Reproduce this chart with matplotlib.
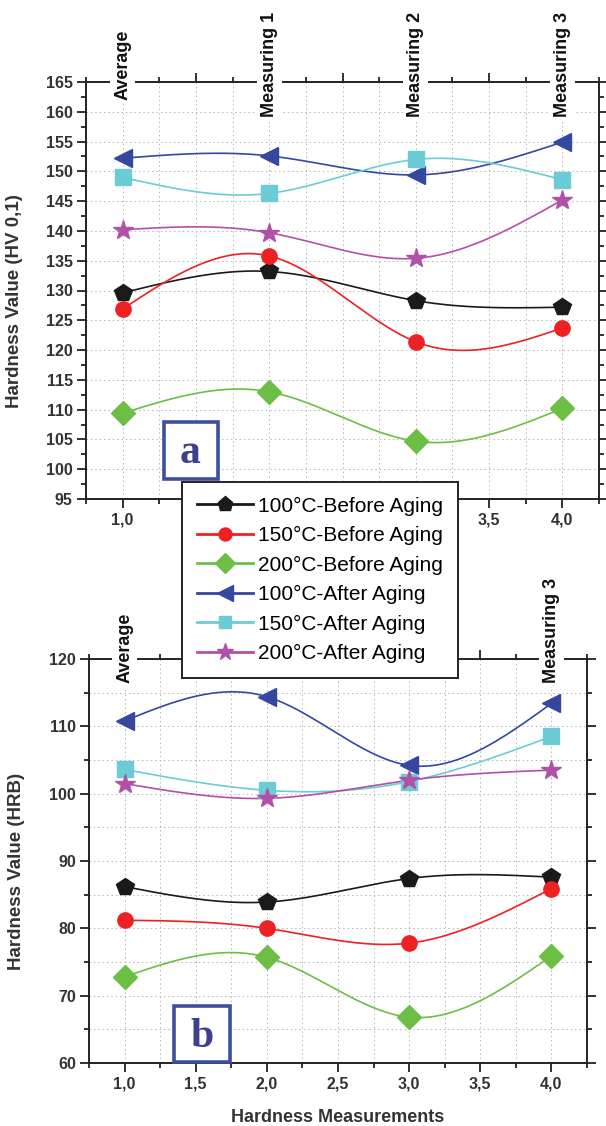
import numpy as np
import matplotlib
matplotlib.use('Agg')
import matplotlib.pyplot as plt
from matplotlib.lines import Line2D
from matplotlib.patches import Rectangle
from matplotlib.ticker import MultipleLocator, FuncFormatter

plt.rcParams['font.family'] = ['Liberation Sans', 'DejaVu Sans']

# data
x = [1.0, 2.0, 3.0, 4.0]
top_labels = ['Average', 'Measuring 1', 'Measuring 2', 'Measuring 3']
series_names = ['100°C-Before Aging', '150°C-Before Aging', '200°C-Before Aging',
                '100°C-After Aging', '150°C-After Aging', '200°C-After Aging']

hv_100_before = [129.6, 133.2, 128.3, 127.2]
hv_150_before = [126.9, 135.8, 121.4, 123.7]
hv_200_before = [109.4, 113.0, 104.7, 110.2]
hv_100_after = [152.2, 152.6, 149.4, 154.9]
hv_150_after = [149.0, 146.3, 152.0, 148.6]
hv_200_after = [140.2, 139.7, 135.4, 145.2]

hrb_100_before = [86.2, 83.9, 87.4, 87.6]
hrb_150_before = [81.2, 80.0, 77.8, 85.9]
hrb_200_before = [72.8, 75.7, 66.8, 75.9]
hrb_100_after = [110.8, 114.4, 104.2, 113.4]
hrb_150_after = [103.6, 100.5, 101.8, 108.5]
hrb_200_after = [101.5, 99.3, 102.0, 103.5]

colors = ['#1a1a1a', '#ed2024', '#6dbe45', '#3548a0', '#6cccd6', '#b250a8']
markers = ['p', 'o', 'D', '<', 's', '*']
msizes = [13, 11, 12, 13, 11, 15]


def spline(xp, yp, n=200):
    # natural cubic spline, like the smooth connector in Origin
    xp = np.asarray(xp, float)
    yp = np.asarray(yp, float)
    m = len(xp)
    h = np.diff(xp)
    A = np.zeros((m, m))
    r = np.zeros(m)
    A[0, 0] = 1
    A[-1, -1] = 1
    for i in range(1, m - 1):
        A[i, i - 1] = h[i - 1]
        A[i, i] = 2 * (h[i - 1] + h[i])
        A[i, i + 1] = h[i]
        r[i] = 3 * ((yp[i + 1] - yp[i]) / h[i] - (yp[i] - yp[i - 1]) / h[i - 1])
    c = np.linalg.solve(A, r)
    b = (yp[1:] - yp[:-1]) / h - h * (2 * c[:-1] + c[1:]) / 3
    d = (c[1:] - c[:-1]) / (3 * h)
    xs = np.linspace(xp[0], xp[-1], n)
    idx = np.clip(np.searchsorted(xp, xs) - 1, 0, m - 2)
    dx = xs - xp[idx]
    return xs, yp[idx] + b[idx] * dx + c[idx] * dx ** 2 + d[idx] * dx ** 3


def comma_fmt(v, p, hidden=()):
    if any(abs(v - hv_) < 1e-6 for hv_ in hidden):
        return ''
    return f"{v:.1f}".replace('.', ',')


fig = plt.figure(figsize=(6.06, 11.26), dpi=100)
ax1 = fig.add_axes([86 / 606, 1 - 499 / 1126, 513 / 606, 417 / 1126])
ax2 = fig.add_axes([89 / 606, 1 - 1063 / 1126, 498 / 606, 404 / 1126])


def style(ax, ylim, ymaj, ymin, ylabel, ylab_x, label_y, label_va, shown, hidden_x):
    ax.set_xlim(0.75, 4.25)
    ax.set_ylim(*ylim)
    ax.xaxis.set_major_locator(MultipleLocator(0.5))
    ax.xaxis.set_minor_locator(MultipleLocator(0.25))
    ax.yaxis.set_major_locator(MultipleLocator(ymaj))
    ax.yaxis.set_minor_locator(MultipleLocator(ymin))
    # labels that sit under the legend are left out
    ax.xaxis.set_major_formatter(FuncFormatter(lambda v, p: comma_fmt(v, p, hidden_x)))
    ax.tick_params(which='both', direction='out', top=True, right=True,
                   width=1.3, color='#222222')
    ax.tick_params(which='major', length=6.5, labelsize=11.5, pad=3,
                   labelcolor='#333333')
    ax.tick_params(which='minor', length=3.5)
    for lab in ax.get_xticklabels() + ax.get_yticklabels():
        lab.set_fontweight('bold')
    for s in ax.spines.values():
        s.set_linewidth(1.4)
        s.set_color('#222222')
    ax.grid(True, axis='x', which='both', color='#b5b5b5', lw=0.7, ls=(0, (1.5, 3)))
    ax.grid(True, axis='y', which='major', color='#b5b5b5', lw=0.7, ls=(0, (1.5, 3)))
    ax.set_axisbelow(True)
    ax.set_ylabel(ylabel, fontsize=13.5, fontweight='bold', color='#333333')
    ax.yaxis.set_label_coords(ylab_x, 0.474)
    for xi, lab in zip(x, top_labels):
        if lab in shown:
            ax.text(xi, label_y, lab, transform=ax.get_xaxis_transform(),
                    rotation=90, ha='center', va=label_va, fontsize=13,
                    fontweight='bold', color='#111111', zorder=5,
                    bbox=dict(facecolor='white', edgecolor='none', pad=3))


hv = [hv_100_before, hv_150_before, hv_200_before, hv_100_after, hv_150_after, hv_200_after]
hrb = [hrb_100_before, hrb_150_before, hrb_200_before, hrb_100_after, hrb_150_after, hrb_200_after]

for ax, data in [(ax1, hv), (ax2, hrb)]:
    for yv, c, mk, ms in zip(data, colors, markers, msizes):
        xs, ys = spline(x, yv)
        ax.plot(xs, ys, color=c, lw=1.2, zorder=3)
        ax.plot(x, yv, ls='none', marker=mk, ms=ms, color=c, mec=c, zorder=4)

style(ax1, (95, 165), 5, 2.5, 'Hardness Value (HV 0,1)', -0.123, 1.041, 'center',
      top_labels, (1.5, 2.0, 2.5, 3.0))
style(ax2, (60, 120), 10, 5, 'Hardness Value (HRB)', -0.1285, 0.94, 'bottom',
      ['Average', 'Measuring 3'], ())
ax2.grid(True, axis='y', which='minor', color='#b5b5b5', lw=0.7, ls=(0, (1.5, 3)))
ax2.set_xlabel('Hardness Measurements', fontsize=13, fontweight='bold', color='#333333')
ax2.xaxis.set_label_coords(0.5, -0.115)

# panel letters
for (x0, y0, w, h), letter, lx, ly in [((164, 422, 54, 57), 'a', 190.5, 463),
                                       ((174, 1006, 56, 56), 'b', 202, 1047)]:
    fig.add_artist(Rectangle((x0 / 606, 1 - (y0 + h) / 1126), w / 606, h / 1126,
                             transform=fig.transFigure, facecolor='white',
                             edgecolor='#3f4fa0', lw=2.6, zorder=6))
    fig.text(lx / 606, 1 - ly / 1126, letter, ha='center', va='baseline',
             fontsize=30, fontweight='bold', family='Liberation Serif',
             color='#3d3f8f', zorder=7)

handles = [Line2D([], [], color=c, lw=2, marker=mk, ms=ms * 0.85, mec=c)
           for c, mk, ms in zip(colors, markers, msizes)]
leg = fig.legend(handles, series_names, loc='upper left',
                 bbox_to_anchor=(182 / 606, 1 - 482 / 1126), borderaxespad=0,
                 fontsize=15, handlelength=2.7, handletextpad=0.25,
                 labelspacing=0.5, borderpad=0.7, fancybox=False, framealpha=1,
                 edgecolor='#222222', numpoints=1)
leg.get_frame().set_linewidth(1.4)
leg.set_zorder(10)

fig.savefig('out.png', dpi=100)
